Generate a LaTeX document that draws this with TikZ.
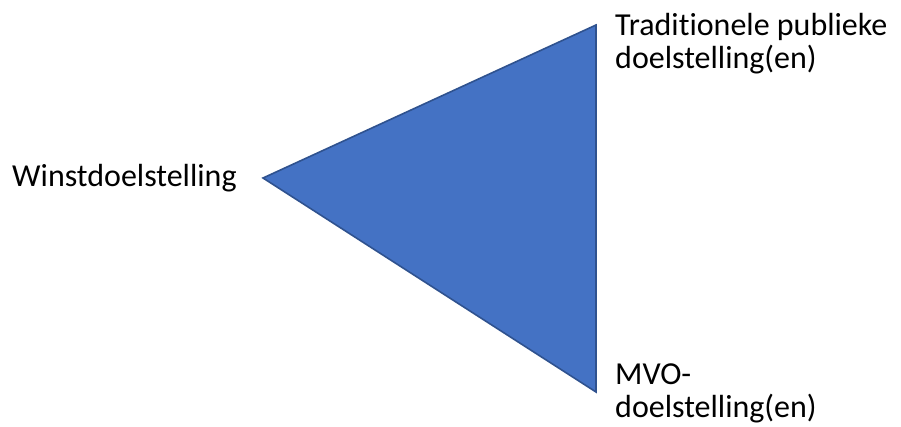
\documentclass[tikz,border=0pt]{standalone}
\usepackage{fontspec}
\setmainfont{Carlito}[RawFeature={-liga;-clig;-dlig}]
\definecolor{triFill}{HTML}{4472C4}
\definecolor{triEdge}{HTML}{2F528F}
\begin{document}
\begin{tikzpicture}[x=1pt,y=-1pt,
  lbl/.style={anchor=base west,inner sep=0pt,align=left,
    font=\fontsize{32}{32.5}\selectfont}]
\useasboundingbox (0,0) rectangle (901,426);
% the triangle
\coordinate (L) at (263,178);
\coordinate (T) at (596,25);
\coordinate (B) at (596,392);
\filldraw[fill=triFill,draw=triEdge,line width=1.6pt,line join=miter] (L) -- (T) -- (B) -- cycle;
% labels at the corners (base anchor sits on the last line)
\node[lbl] (win) at (12,186) {Winstdoelstelling};
\node[lbl] (pub) at (615,68) {Traditionele publieke\\doelstelling(en)};
\node[lbl] (mvo) at (615,417) {MVO-\\doelstelling(en)};
\end{tikzpicture}
\end{document}
